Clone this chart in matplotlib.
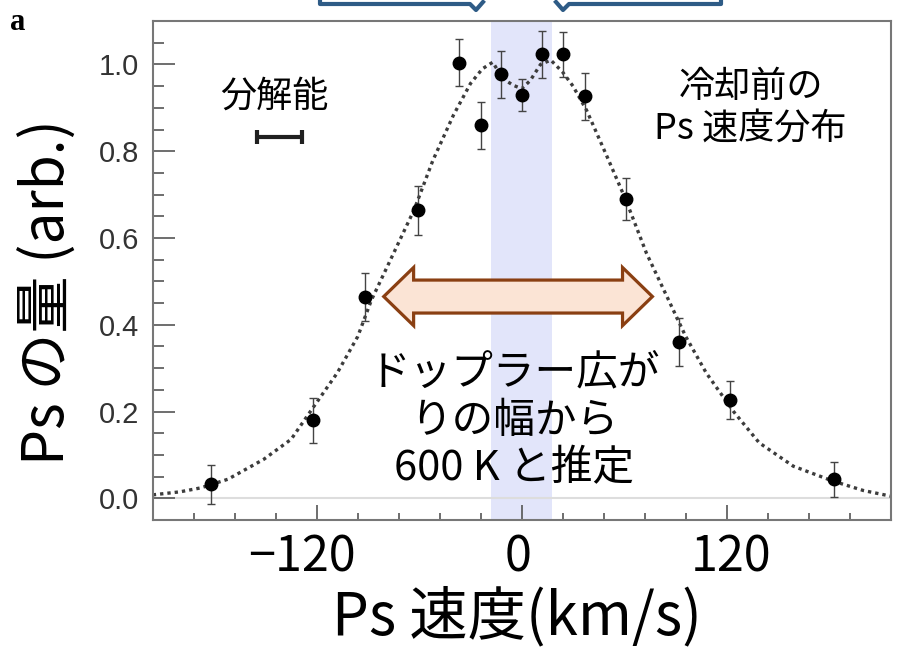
import matplotlib
matplotlib.use("Agg")
import matplotlib.pyplot as plt
import matplotlib.transforms as mtransforms
from matplotlib.patches import Polygon
from matplotlib.ticker import MultipleLocator, FixedLocator
from matplotlib.lines import Line2D

jp = ['Noto Sans CJK JP', 'DejaVu Sans']

# ****Measured Ps velocity distribution (before cooling)****
velocity = [-182, -122, -92, -61, -36.5, -24, -12, 0, 12, 24, 37, 61, 92, 122, 183]
amount = [0.032, 0.18, 0.464, 0.664, 1.004, 0.86, 0.977, 0.929,
          1.023, 1.023, 0.927, 0.69, 0.36, 0.226, 0.044]
amount_err = [0.044, 0.052, 0.056, 0.056, 0.054, 0.054, 0.055, 0.037,
              0.054, 0.051, 0.054, 0.049, 0.056, 0.044, 0.040]

# ****Fit curve****
fit_v = [-216, -200, -188, -172, -151, -135, -122, -108, -96, -88, -75, -63, -52,
         -40, -30, -23, -17, -11, -5, 0, 5, 11, 17, 24, 30, 38, 50, 61, 73, 85,
         96, 108, 124, 139, 159, 182, 200, 216]
fit_y = [0.008, 0.015, 0.024, 0.044, 0.09, 0.136, 0.21, 0.289, 0.373, 0.457, 0.565,
         0.665, 0.779, 0.883, 0.956, 0.99, 1.005, 0.967, 0.952, 0.944, 0.963, 1.0,
         1.01, 0.982, 0.95, 0.894, 0.787, 0.687, 0.565, 0.465, 0.373, 0.289, 0.2,
         0.128, 0.074, 0.04, 0.018, 0.005]

band = (-18, 18)
resolution_center = -141.6
resolution_half = 13.1
resolution_y = 0.833

x_ticks = [-120, 0, 120]
x_ticklabels = ['\u2212120', '0', '120']
y_ticks = [0.0, 0.2, 0.4, 0.6, 0.8, 1.0]

fig = plt.figure(figsize=(9.04, 6.57), dpi=100)
ax = fig.add_axes([0.169, 0.2085, 0.8163, 0.7595])

ax.axvspan(band[0], band[1], color='#e2e5fa', zorder=0, lw=0)
ax.axhline(0, color='#dddddd', lw=1.5, zorder=1)

ax.plot(fit_v, fit_y, color='#3c3c3c', lw=2.4, ls=(0, (1, 1.2)), zorder=2)
ax.errorbar(velocity, amount, yerr=amount_err, fmt='o', color='black', ms=9,
            ecolor='#444444', elinewidth=1.0, capsize=3, capthick=1.0, zorder=3)

# resolution bar
ax.errorbar([resolution_center], [resolution_y], xerr=[resolution_half], fmt='none',
            ecolor='#202020', elinewidth=3, capsize=5, capthick=3, zorder=3)

# ****Double arrow (Doppler width)****
x0, x1, yc = -80.8, 76.5, 0.465
hh, sh, hl = 0.067, 0.038, 17.5
verts = [(x0, yc), (x0 + hl, yc + hh), (x0 + hl, yc + sh), (x1 - hl, yc + sh),
         (x1 - hl, yc + hh), (x1, yc), (x1 - hl, yc - hh), (x1 - hl, yc - sh),
         (x0 + hl, yc - sh), (x0 + hl, yc - hh)]
ax.add_patch(Polygon(verts, closed=True, facecolor='#fbe4d5', edgecolor='#8a3f12',
                     lw=2.3, zorder=4, joinstyle='miter'))

ax.text(-145, 0.925, '分解能', family=jp, fontsize=26, ha='center', va='center')
ax.text(134, 0.9, '冷却前の\nPs 速度分布', family=jp, fontsize=26, ha='center',
        va='center', linespacing=1.2)
ax.text(-4.5, 0.178, 'ドップラー広が\nりの幅から\n600 K と推定', family=jp,
        fontsize=30, ha='center', va='center', linespacing=1.22, zorder=5)

ax.set_xlim(-216, 216)
ax.set_ylim(-0.05, 1.1)

ax.xaxis.set_major_locator(FixedLocator(x_ticks))
ax.xaxis.set_minor_locator(MultipleLocator(24))
ax.set_xticklabels([])
ax.yaxis.set_major_locator(FixedLocator(y_ticks))
ax.yaxis.set_minor_locator(MultipleLocator(0.05))
ax.set_yticklabels(['%.1f' % v for v in y_ticks], family='Liberation Sans',
                   fontsize=21, color='#333333')

# x tick labels as texts: the slide's labels sit a little off their ticks
for v, lab, dx in zip(x_ticks, x_ticklabels, [-15, -4, 4]):
    tr = ax.get_xaxis_transform() + mtransforms.ScaledTranslation(
        dx / 100, -38 / 100, fig.dpi_scale_trans)
    ax.text(v, 0, lab, family=jp, fontsize=35, ha='center', va='center',
            transform=tr, clip_on=False)

ax.tick_params(axis='x', which='major', direction='in', length=11, width=1.2,
               color='#555555')
ax.tick_params(axis='x', which='minor', direction='in', length=5, width=1.2,
               color='#555555')
ax.tick_params(axis='y', which='major', direction='in', length=16, width=1.2,
               color='#555555', pad=10)
ax.tick_params(axis='y', which='minor', direction='in', length=8, width=1.2,
               color='#555555')
for s in ax.spines.values():
    s.set_color('#777777')
    s.set_linewidth(1.5)

ax.set_xlabel('Ps 速度(km/s)', family=jp, fontsize=42, va='center')
ax.xaxis.set_label_coords(0.494, -0.196)
ax.set_ylabel('Ps の量 (arb.)', family=jp, fontsize=41, va='center')
ax.yaxis.set_label_coords(-0.142, 0.457)

# panel letter
fig.text(10 / 904, 1 - 22 / 657, 'a', family='Liberation Serif', fontweight='bold',
         fontsize=22, ha='left', va='center')

# cut-off blue callout arrows at the top edge
H = 657.0
for pts in ([(320, 0), (320, 4), (470, 4), (476, 10), (483, 2)],
            [(721, 0), (721, 4), (569, 4), (563, 10), (556, 2)]):
    xs = [p[0] / 904 for p in pts]
    ys = [1 - p[1] / H for p in pts]
    fig.add_artist(Line2D(xs, ys, color='#2e5b86', lw=3, transform=fig.transFigure))

fig.savefig('out.png', dpi=100)
